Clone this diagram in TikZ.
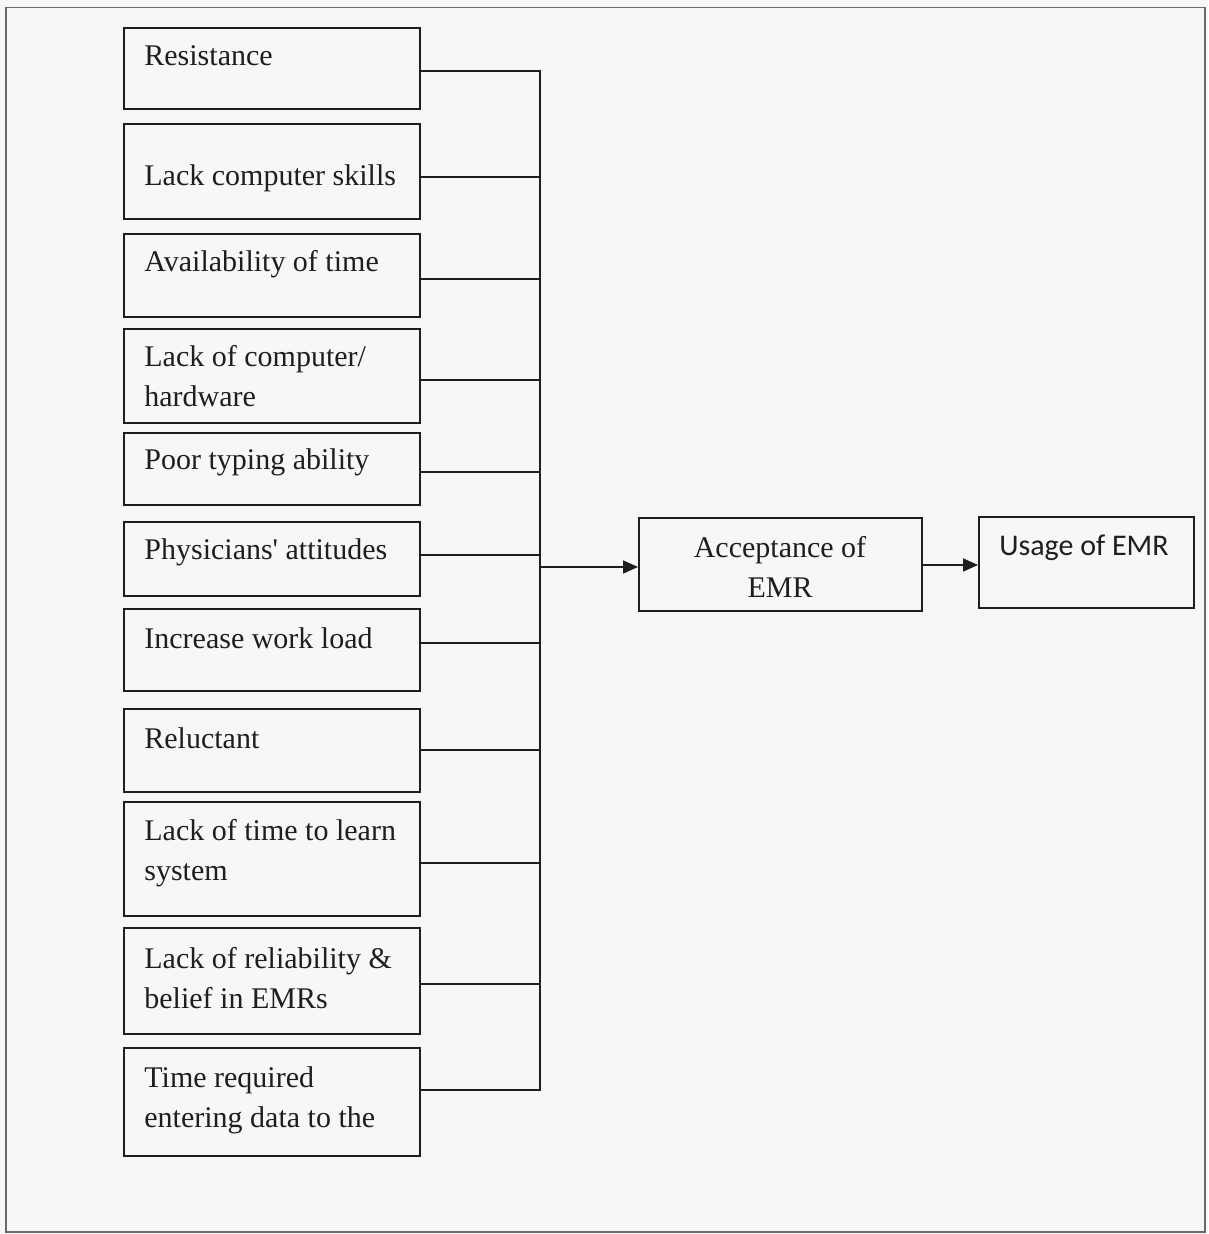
\documentclass[tikz,border=0pt]{standalone}
\usepackage{fontspec}
\setmainfont{Liberation Serif}
\newfontfamily\calibrifont{Carlito}
\usetikzlibrary{arrows.meta,calc}
\definecolor{pagebg}{HTML}{F8F7F5}
\definecolor{ink}{HTML}{1E1E1E}
\definecolor{framec}{HTML}{6A6A6A}
\tikzset{
  box/.style={draw=ink, line width=1.1pt, inner sep=0pt, minimum width=148pt, anchor=north west},
  lbl/.style={inner sep=0pt, anchor=base west, text=ink, font=\fontsize{15}{20}\selectfont, align=left},
  link/.style={draw=ink, line width=0.85pt},
  flow/.style={link, -{Triangle[length=7.5pt,width=6.5pt]}},
}
\begin{document}
\begin{tikzpicture}[x=0.5pt,y=-0.5pt]
\useasboundingbox (0,0) rectangle (1208,1234);
\fill[pagebg] (0,0) rectangle (1208,1234);
\draw[framec, line width=0.8pt] (6,7.5) rectangle (1205,1232);

% factor boxes
\node[box, minimum height=40.5pt] (b1)  at (123,27)   {};
\node[box, minimum height=47.5pt] (b2)  at (123,123)  {};
\node[box, minimum height=41.5pt] (b3)  at (123,233)  {};
\node[box, minimum height=47pt]   (b4)  at (123,328)  {};
\node[box, minimum height=36pt]   (b5)  at (123,432)  {};
\node[box, minimum height=37pt]   (b6)  at (123,521)  {};
\node[box, minimum height=41pt]   (b7)  at (123,608)  {};
\node[box, minimum height=41.5pt] (b8)  at (123,708)  {};
\node[box, minimum height=57pt]   (b9)  at (123,801)  {};
\node[box, minimum height=53pt]   (b10) at (123,927)  {};
\node[box, minimum height=54pt]   (b11) at (123,1047) {};

% labels (base anchor = baseline of the last line)
\node[lbl] (t1)  at ($(b1.north west)+(21,39)$)  {Resistance};
\node[lbl] (t2)  at ($(b2.north west)+(21,63)$)  {Lack computer skills};
\node[lbl] (t3)  at ($(b3.north west)+(21,39)$)  {Availability of time};
\node[lbl] (t4)  at ($(b4.north west)+(21,79)$)  {Lack of computer/\\hardware};
\node[lbl] (t5)  at ($(b5.north west)+(21,38)$)  {Poor typing ability};
\node[lbl] (t6)  at ($(b6.north west)+(21,38)$)  {Physicians\textquotesingle{} attitudes};
\node[lbl] (t7)  at ($(b7.north west)+(21,40)$)  {Increase work load};
\node[lbl] (t8)  at ($(b8.north west)+(21,40)$)  {Reluctant};
\node[lbl] (t9)  at ($(b9.north west)+(21,79)$)  {Lack of time to learn\\system};
\node[lbl] (t10) at ($(b10.north west)+(21,81)$) {Lack of reliability \&\\belief in EMRs};
\node[lbl] (t11) at ($(b11.north west)+(21,80)$) {Time required\\entering data to the};

% bus junctions
\coordinate (j1)  at (540,71);
\coordinate (j2)  at (540,177);
\coordinate (j3)  at (540,279);
\coordinate (j4)  at (540,380);
\coordinate (j5)  at (540,472);
\coordinate (j6)  at (540,555);
\coordinate (j7)  at (540,643);
\coordinate (j8)  at (540,750);
\coordinate (j9)  at (540,863);
\coordinate (j10) at (540,984);
\coordinate (j11) at (540,1090);
\coordinate (jA)  at (540,567);

\draw[link, line join=miter] (b1.east |- j1) -- (j1) -- (j11) -- (b11.east |- j11);
\foreach \i in {2,...,10} {\draw[link] (b\i.east |- j\i) -- (j\i);}

% outcome boxes
\node[box, minimum width=141.5pt, minimum height=46.5pt] (acc) at (638,517) {};
\node[box, minimum width=107.5pt, minimum height=45.5pt] (use) at (978,516) {};
\node[lbl, anchor=base, align=center] (tacc) at (780,597) {Acceptance of\\EMR};
\node[lbl, anchor=base, font=\calibrifont\fontsize{15}{20}\selectfont] (tuse) at (1084,555) {Usage of EMR};

\coordinate (m) at (921,565);
\draw[flow] (jA) -- (acc.west |- jA);
\draw[flow] (acc.east |- m) -- (use.west |- m);
\end{tikzpicture}
\end{document}
